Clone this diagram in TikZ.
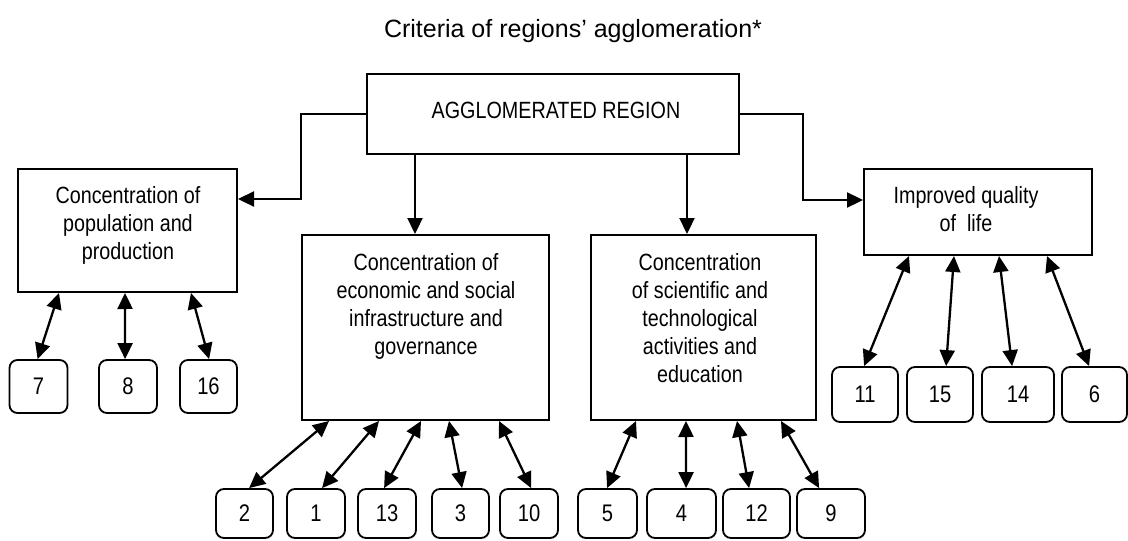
\documentclass[tikz,border=0pt]{standalone}
\usepackage{fontspec}
\setmainfont{Liberation Sans}
\newfontfamily\narrowfont{Liberation Sans}[FakeStretch=0.84]
\usetikzlibrary{arrows.meta,calc}
\tikzset{
  box/.style={draw, line width=2pt, inner sep=0pt, rectangle},
  numbox/.style={draw, line width=1.8pt, inner sep=0pt, rounded corners=8pt, font=\narrowfont\fontsize{24}{28}\selectfont},
  txt/.style={inner sep=0pt, align=center, font=\narrowfont\fontsize{23.5}{28}\selectfont},
  arr/.style={line width=2.3pt, -{Triangle[length=16pt,width=15pt]}},
  dbl/.style={line width=2.3pt, {Triangle[length=16pt,width=15pt]}-{Triangle[length=16pt,width=15pt]}},
}
\begin{document}
\begin{tikzpicture}[x=1pt,y=-1pt]
\useasboundingbox (0,0) rectangle (1128,541);
% title
\node[inner sep=0pt, anchor=base, font=\fontsize{25}{30}\selectfont] (title) at (573,37) {Criteria of regions’ agglomeration*};
% main boxes
\node[box, minimum width=372pt, minimum height=80pt] (top) at (553,114) {};
\node[txt] (toptxt) at (556,110) {AGGLOMERATED REGION};
\node[box, minimum width=219pt, minimum height=123pt] (L) at (127.5,230.5) {};
\node[txt, anchor=north] (Ltxt) at (128,186) {Concentration of\\population and\\production};
\node[box, minimum width=247pt, minimum height=185pt] (M1) at (425.5,327.5) {};
\node[txt, anchor=north] (M1txt) at (426,253) {Concentration of\\economic and social\\infrastructure and\\governance};
\node[box, minimum width=225pt, minimum height=185pt] (M2) at (703.5,327.5) {};
\node[txt, anchor=north] (M2txt) at (700,253) {Concentration\\of scientific and\\technological\\activities and\\education};
\node[box, minimum width=228pt, minimum height=86pt] (R) at (978,212) {};
\node[txt, anchor=north] (Rtxt) at (966,186) {Improved quality\\of\ \ life};
% number boxes: left
\node[numbox, minimum width=58pt, minimum height=53pt] (b7) at (38.5,386.5) {7};
\node[numbox, minimum width=58pt, minimum height=53pt] (b8) at (128,386.5) {8};
\node[numbox, minimum width=57pt, minimum height=53pt] (b16) at (208.5,386.5) {16};
% bottom middle-left
\node[numbox, minimum width=57pt, minimum height=49pt] (b2) at (244.5,513.5) {2};
\node[numbox, minimum width=58pt, minimum height=49pt] (b1) at (316,513.5) {1};
\node[numbox, minimum width=58pt, minimum height=49pt] (b13) at (387,513.5) {13};
\node[numbox, minimum width=57pt, minimum height=49pt] (b3) at (460.5,513.5) {3};
\node[numbox, minimum width=58pt, minimum height=49pt] (b10) at (529,513.5) {10};
% bottom middle-right
\node[numbox, minimum width=59pt, minimum height=49pt] (b5) at (607.5,513.5) {5};
\node[numbox, minimum width=69pt, minimum height=49pt] (b4) at (681.5,513.5) {4};
\node[numbox, minimum width=67pt, minimum height=49pt] (b12) at (756.5,513.5) {12};
\node[numbox, minimum width=68pt, minimum height=49pt] (b9) at (831,513.5) {9};
% right
\node[numbox, minimum width=66pt, minimum height=55pt] (b11) at (865,394.5) {11};
\node[numbox, minimum width=66pt, minimum height=55pt] (b15) at (940,394.5) {15};
\node[numbox, minimum width=72pt, minimum height=55pt] (b14) at (1018,394.5) {14};
\node[numbox, minimum width=65pt, minimum height=55pt] (b6) at (1094.5,394.5) {6};
% connectors from top box
\draw[arr] (top.west) -- ++(-65,0) |- ([yshift=31.5pt]L.east);
\draw[arr] (top.east) -- ++(63,0) |- ([yshift=12pt]R.west);
\coordinate (d1) at ($(M1.north)+(-10.5,0)$);
\coordinate (d2) at ($(M2.north)+(-16.5,0)$);
\draw[arr] (d1 |- top.south) -- (d1);
\draw[arr] (d2 |- top.south) -- (d2);
% left box links
\draw[dbl] ($(L.south west)+(42,0)$) -- ($(b7.north west)+(29,0)$);
\draw[dbl] ($(L.south west)+(108,0)$) -- ($(b8.north west)+(27,0)$);
\draw[dbl] ($(L.south west)+(174,0)$) -- ($(b16.north west)+(30,0)$);
% middle-left links
\draw[dbl] ($(M1.south west)+(28,0)$) -- ($(b2.north west)+(34,0)$);
\draw[dbl] ($(M1.south west)+(78,0)$) -- ($(b1.north west)+(36,0)$);
\draw[dbl] ($(M1.south west)+(120,0)$) -- ($(b13.north west)+(27,0)$);
\draw[dbl] ($(M1.south west)+(148,0)$) -- ($(b3.north west)+(31,0)$);
\draw[dbl] ($(M1.south west)+(198,0)$) -- ($(b10.north west)+(32,0)$);
% middle-right links
\draw[dbl] ($(M2.south west)+(46,0)$) -- ($(b5.north west)+(30,0)$);
\draw[dbl] ($(M2.south west)+(96,0)$) -- ($(b4.north west)+(40,0)$);
\draw[dbl] ($(M2.south west)+(147,0)$) -- ($(b12.north west)+(27,0)$);
\draw[dbl] ($(M2.south west)+(191,0)$) -- ($(b9.north west)+(23,0)$);
% right links
\draw[dbl] ($(R.south west)+(46,0)$) -- ($(b11.north west)+(33,0)$);
\draw[dbl] ($(R.south west)+(91,0)$) -- ($(b15.north west)+(40,0)$);
\draw[dbl] ($(R.south west)+(136,0)$) -- ($(b14.north west)+(31,0)$);
\draw[dbl] ($(R.south west)+(184,0)$) -- ($(b6.north west)+(28,0)$);
\end{tikzpicture}
\end{document}
